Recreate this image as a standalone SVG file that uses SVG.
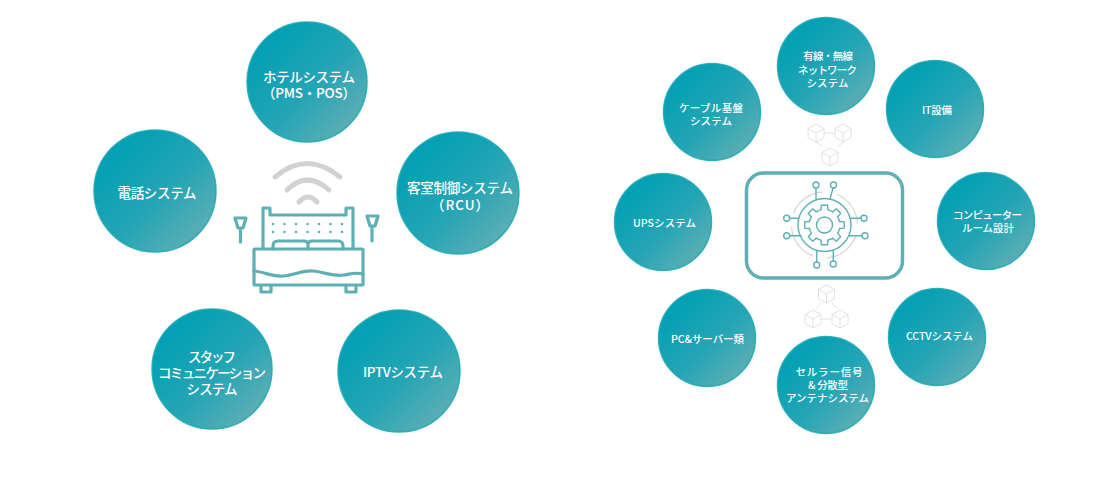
<svg xmlns="http://www.w3.org/2000/svg" xmlns:xlink="http://www.w3.org/1999/xlink" width="1096" height="480" viewBox="0 0 1096 480">
<style>
text{font-family:"Noto Sans CJK JP","Noto Sans",sans-serif;fill:#fff;text-anchor:middle}
.l{font-size:13.5px;font-weight:500}
.s{font-size:10.5px;font-weight:500}
.c{fill:url(#g)}
.ring{fill:none;stroke:#18a8b2;stroke-opacity:.85;stroke-width:1.5}
.t{fill:none;stroke:#5fb0b4;stroke-width:3.2;stroke-linecap:round;stroke-linejoin:round}
.i{fill:none;stroke:#5fb0b4;stroke-width:1.4;stroke-linecap:round;stroke-linejoin:round}
.w{fill:none;stroke:#d2d2d2;stroke-width:5;stroke-linecap:round}
.q{fill:none;stroke:#dcdcdc;stroke-width:.9;stroke-linejoin:round}
</style>
<defs>
<linearGradient id="g" x1="0.2" y1="0.2" x2="0.9" y2="0.9">
<stop offset="0" stop-color="#05a0b4"/>
<stop offset="0.5" stop-color="#25a5b5"/>
<stop offset="1" stop-color="#62afb4"/>
</linearGradient>
<path id="tooth" d="M-3.5-15.1L-3.1-19.8H3.1L3.5-15.1A15.5 15.5 0 0 1 8.2-13.1"/>
<g id="cube"><path d="M0-9L8-4.5V4.5L0 9L-8 4.5V-4.5Z M-8-4.5L0 0L8-4.5 M0 0V9"/></g>
</defs>
<rect width="1096" height="480" fill="#fff"/>

<g id="connectors">
<path class="q" d="M824 133H835 M822 146L816 142 M838 146L844 142 M821 303L816 309 M832 303L838 309 M821 319H832"/>
</g>

<g id="n-hotel"><circle class="c" cx="307" cy="82" r="60"/><circle class="ring" cx="307" cy="82" r="60"/><text class="l" x="309" y="82" textLength="92">ホテルシステム</text><text class="l" x="309" y="98" textLength="94">（PMS・POS）</text></g>
<g id="n-phone"><circle class="c" cx="155" cy="191" r="61"/><circle class="ring" cx="155" cy="191" r="61"/><text class="l" x="157" y="198" textLength="79">電話システム</text></g>
<g id="n-room"><circle class="c" cx="458" cy="193" r="61"/><circle class="ring" cx="458" cy="193" r="61"/><text class="l" x="460" y="193" textLength="106">客室制御システム</text><text class="l" x="460" y="210" textLength="58">（RCU）</text></g>
<g id="n-staff"><circle class="c" cx="212" cy="369" r="60"/><circle class="ring" cx="212" cy="369" r="60"/><text class="l" x="212" y="362" textLength="48">スタッフ</text><text class="l" x="212" y="378" textLength="108">コミュニケーション</text><text class="l" x="212" y="394" textLength="51">システム</text></g>
<g id="n-iptv"><circle class="c" cx="399" cy="371" r="61"/><circle class="ring" cx="399" cy="371" r="61"/><text class="l" x="403" y="377" textLength="80">IPTVシステム</text></g>

<g id="n-bed">
<path class="w" d="M275 177Q307 150 340 177 M287 190Q307 170 329 190"/>
<path class="w" d="M299 202Q308 192 317 202"/>
<path class="t" d="M263 248V208H270V215H346V208H353V248"/>
<rect class="t" x="254" y="249" width="109" height="36" rx="1"/>
<path class="t" d="M254 271C265 272 272 277 283 276C295 275 303 270 313 271C325 272 333 277 344 275C350 274 356 272 363 274"/>
<path class="t" d="M261 286V292H271V286 M346 286V292H356V286"/>
<path class="t" d="M273 249V246Q273 241 278 241H304Q308 241 308 245V249 M308 245Q308 241 312 241H338Q343 241 343 246V249"/>
<path class="t" d="M235 218H246L243 228H238Z M240.500 228V242 M367 216H378L375 226H370Z M372 226V241"/>
<g fill="#5fb0b4"><circle cx="273" cy="224" r="1.300"/><circle cx="284.500" cy="224" r="1.300"/><circle cx="296" cy="224" r="1.300"/><circle cx="307.500" cy="224" r="1.300"/><circle cx="319" cy="224" r="1.300"/><circle cx="330.500" cy="224" r="1.300"/><circle cx="342" cy="224" r="1.300"/><circle cx="273" cy="232" r="1.300"/><circle cx="284.500" cy="232" r="1.300"/><circle cx="296" cy="232" r="1.300"/><circle cx="307.500" cy="232" r="1.300"/><circle cx="319" cy="232" r="1.300"/><circle cx="330.500" cy="232" r="1.300"/><circle cx="342" cy="232" r="1.300"/></g>
</g>

<g id="n-wireless"><circle class="c" cx="826" cy="66" r="48.500"/><circle class="ring" cx="826" cy="66" r="48.500"/><text class="s" x="828" y="60" textLength="50">有線・無線</text><text class="s" x="827.500" y="73.500" textLength="59">ネットワーク</text><text class="s" x="827.500" y="87" textLength="42">システム</text></g>
<g id="n-cable"><circle class="c" cx="712" cy="112" r="48.500"/><circle class="ring" cx="712" cy="112" r="48.500"/><text class="s" x="711" y="112" textLength="64">ケーブル基盤</text><text class="s" x="711" y="125" textLength="42">システム</text></g>
<g id="n-it"><circle class="c" cx="935" cy="109" r="48.500"/><circle class="ring" cx="935" cy="109" r="48.500"/><text class="s" x="937" y="114" textLength="30">IT設備</text></g>
<g id="n-ups"><circle class="c" cx="663" cy="222" r="48.500"/><circle class="ring" cx="663" cy="222" r="48.500"/><text class="s" x="664.500" y="226.500" textLength="63">UPSシステム</text></g>
<g id="n-computer"><circle class="c" cx="986" cy="221" r="48.500"/><circle class="ring" cx="986" cy="221" r="48.500"/><text class="s" x="987.500" y="218.500" textLength="69">コンピューター</text><text class="s" x="988" y="232" textLength="52">ルーム設計</text></g>
<g id="n-pc"><circle class="c" cx="707" cy="338" r="48.500"/><circle class="ring" cx="707" cy="338" r="48.500"/><text class="s" x="707.500" y="343" textLength="73">PC&amp;サーバー類</text></g>
<g id="n-cctv"><circle class="c" cx="937" cy="337" r="48.500"/><circle class="ring" cx="937" cy="337" r="48.500"/><text class="s" x="939.500" y="340" textLength="67">CCTVシステム</text></g>
<g id="n-cell"><circle class="c" cx="826" cy="385" r="48.500"/><circle class="ring" cx="826" cy="385" r="48.500"/><text class="s" x="829" y="376" textLength="67">セルラー信号</text><text class="s" x="828" y="389" textLength="40">&amp; 分散型</text><text class="s" x="827.500" y="402" textLength="83">アンテナシステム</text></g>

<g id="n-center">
<rect x="746.500" y="173" width="156" height="105" rx="17" fill="#fff" stroke="#5fb0b4" stroke-width="3.500"/>
<circle cx="824.500" cy="225" r="33" fill="none" stroke="#d5d5d5" stroke-width="1.200" stroke-dasharray="38 14" transform="rotate(20 824.500 225)"/>
<circle class="i" cx="824.500" cy="225" r="26.500"/>
<circle class="i" cx="824.500" cy="225" r="8"/>
<g class="i" transform="translate(824.500 225)">
<use href="#tooth"/><use href="#tooth" transform="rotate(45)"/><use href="#tooth" transform="rotate(90)"/><use href="#tooth" transform="rotate(135)"/><use href="#tooth" transform="rotate(180)"/><use href="#tooth" transform="rotate(225)"/><use href="#tooth" transform="rotate(270)"/><use href="#tooth" transform="rotate(315)"/>
</g>
<path class="i" d="M816 188V199 M833 188L830 199 M790 218.300H798 M790 235.700H801 M861 218.300H851 M862 235.700H849 M816.700 262V251 M833.300 261V250"/>
<g class="i"><circle cx="816" cy="185" r="3"/><circle cx="833.500" cy="185" r="3"/><circle cx="786.700" cy="218.300" r="3"/><circle cx="786.700" cy="235.700" r="3"/><circle cx="864" cy="218.300" r="3"/><circle cx="865" cy="235.700" r="3"/><circle cx="816.700" cy="265" r="3"/><circle cx="833.300" cy="264" r="3"/></g>
</g>

<g id="n-cubes-top" class="q"><use href="#cube" x="816" y="133"/><use href="#cube" x="843" y="133"/><use href="#cube" x="830" y="157"/></g>
<g id="n-cubes-bottom" class="q"><use href="#cube" x="826.500" y="294"/><use href="#cube" x="813" y="319"/><use href="#cube" x="840" y="319"/></g>
</svg>
